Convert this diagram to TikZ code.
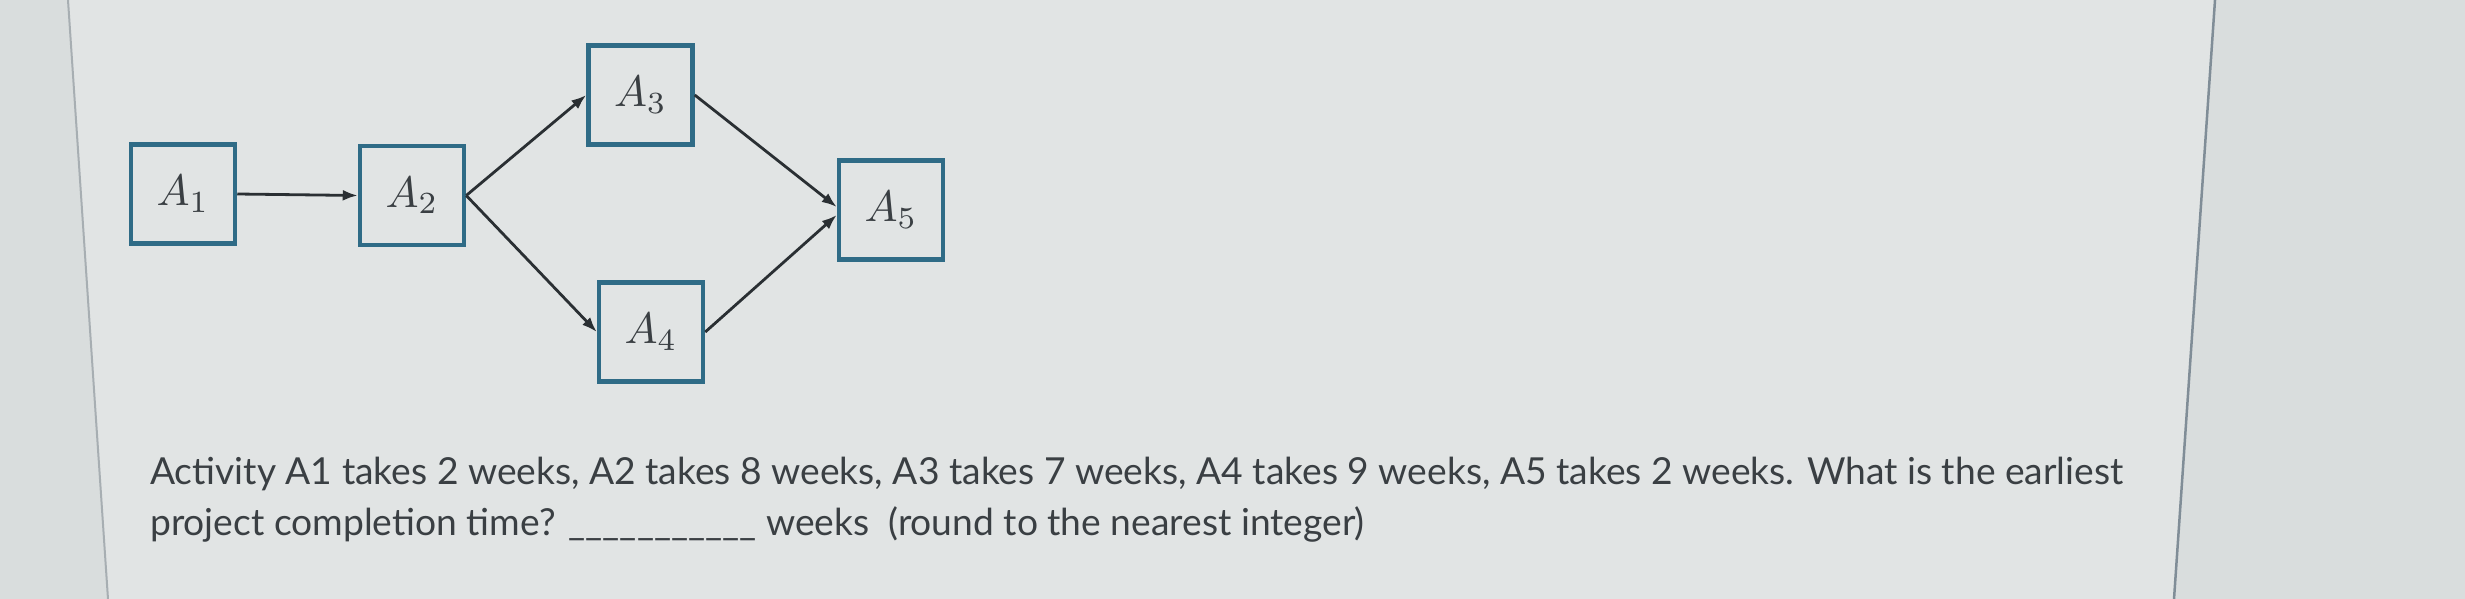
\documentclass[tikz,border=0pt]{standalone}
\usepackage{graphicx}
\usepackage{fontspec}
\setmainfont{Lato}
\usetikzlibrary{arrows.meta}
\definecolor{bgmain}{HTML}{E1E4E4}
\definecolor{bgside}{HTML}{D9DDDD}
\definecolor{boxblue}{HTML}{2F6B86}
\definecolor{ink}{HTML}{3A3F43}
\definecolor{arrowink}{HTML}{2A2F33}
\definecolor{leftline}{HTML}{A7AEB2}
\definecolor{rightline}{HTML}{808D97}
\newcommand{\actlabel}[1]{\scalebox{4.4}{$A_{#1}$}}
\tikzset{
  actbox/.style={draw=boxblue, line width=4.5pt, fill=bgmain, minimum width=104pt, minimum height=99pt, inner sep=0pt, text=ink},
  flow/.style={draw=arrowink, line width=2.8pt, -{Latex[length=15pt,width=11pt]}},
  qtext/.style={anchor=base west, inner sep=0pt, text=ink, font=\fontsize{37.2}{44}\selectfont}
}
\begin{document}
\begin{tikzpicture}[x=1pt,y=-1pt]
\useasboundingbox (0,0) rectangle (2465,599);
% background
\fill[bgside] (0,0) rectangle (2465,599);
\fill[bgmain] (68,0) -- (2215,0) -- (2174,599) -- (108,599) -- cycle;
\draw[leftline, line width=2pt] (68,0) -- (108,599);
\draw[rightline, line width=2.5pt] (2215,0) -- (2174,599);
% activity boxes
\node[actbox] (a1) at (183,194) {\actlabel{1}};
\node[actbox] (a2) at (412,195.5) {\actlabel{2}};
\node[actbox] (a3) at (640.5,95) {\actlabel{3}};
\node[actbox] (a4) at (651,332) {\actlabel{4}};
\node[actbox] (a5) at (891,210) {\actlabel{5}};
% connectors
\draw[flow] (a1.east) -- (a2.west);
\draw[flow] (a2.east) -- (a3.west);
\draw[flow] (a2.east) -- (a4.west);
\draw[flow] (a3.east) -- ([yshift=3pt]a5.west);
\draw[flow] (a4.east) -- ([yshift=-5pt]a5.west);
% question text
\node[qtext] (q1) at (150,484) {Activity A1 takes 2 weeks, A2 takes 8 weeks, A3 takes 7 weeks, A4 takes 9 weeks, A5 takes 2 weeks. What is the earliest};
\node[qtext] (q2) at (150,535) {project completion time?\hspace{0.35em}\_\_\_\_\_\_\_\_\_\_\_ weeks\ \ (round to the nearest integer)};
\end{tikzpicture}
\end{document}
